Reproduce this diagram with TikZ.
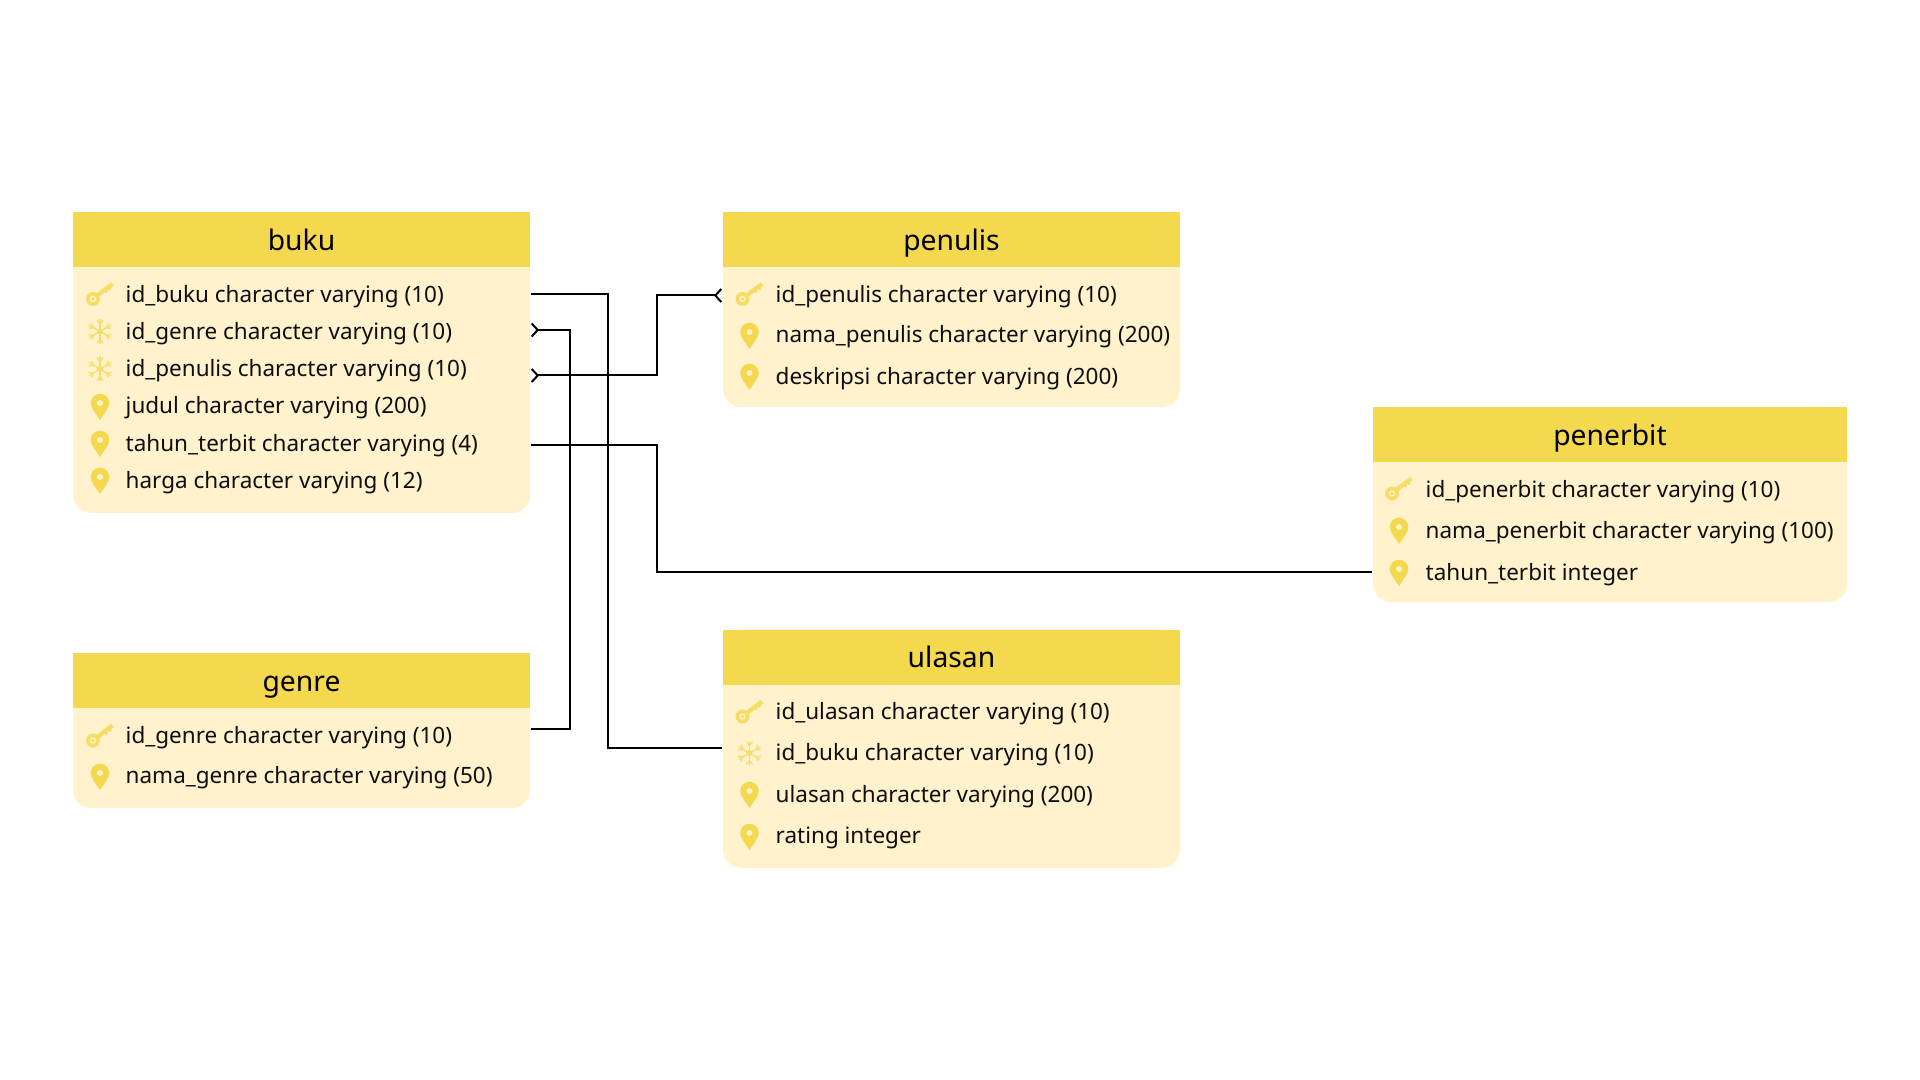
\documentclass[tikz,border=0pt]{standalone}
\usepackage{fontspec}
\setmainfont{Noto Sans}
\usetikzlibrary{arrows.meta}
\definecolor{headyellow}{HTML}{F4D94E}
\definecolor{bodyyellow}{HTML}{FFF2CC}
\definecolor{keyyellow}{HTML}{F6DD66}
\definecolor{inkblack}{HTML}{0E0E0E}
\tikzset{
  tablebody/.style={fill=bodyyellow,rounded corners=.18cm,minimum width=4.57cm,inner sep=0},
  tablehead/.style={fill=headyellow,minimum width=4.57cm,minimum height=.55cm,inner sep=0,text height=.215cm,text depth=0cm,text=black,font=\fontsize{8.05}{9}\selectfont},
  rowtext/.style={anchor=west,inner sep=0,text height=.2cm,text depth=.04cm,text=inkblack,font=\fontsize{6.4}{7}\selectfont},
  link/.style={draw=black,line width=.02cm},
  crowend/.style={-{Straight Barb[reversed,length=.06cm,width=.13cm]}},
  crowboth/.style={{Straight Barb[reversed,length=.06cm,width=.13cm]}-{Straight Barb[reversed,length=.06cm,width=.13cm]}},
  pics/pinicon/.style={code={
    \fill[headyellow] (0,-.13) .. controls (-.04,-.065) and (-.093,-.01) .. (-.093,.04) arc (180:0:.093) .. controls (.093,-.01) and (.04,-.065) .. (0,-.13) -- cycle;
    \fill[bodyyellow] (0,.04) circle (.03);
  }},
  pics/keyicon/.style={code={
    \fill[keyyellow] (-.07,-.045) circle (.07);
    \fill[bodyyellow] (-.07,-.045) circle (.032);
    \fill[keyyellow] (-.07,-.045) circle (.018);
    \draw[keyyellow,line width=.042cm] (-.03,-.012) -- (.125,.105);
    \draw[keyyellow,line width=.024cm] (.05,.05) -- (.072,.022);
    \draw[keyyellow,line width=.024cm] (.085,.075) -- (.107,.047);
  }},
  pics/flakearm/.style={code={
    \draw[keyyellow,line width=.012cm] (0,0) -- (.125,0);
    \draw[keyyellow,line width=.012cm] (.075,0) -- (.115,.03);
    \draw[keyyellow,line width=.012cm] (.075,0) -- (.115,-.03);
  }},
  pics/flakeicon/.style={code={
    \pic[rotate=30] at (0,0) {flakearm};
    \pic[rotate=90] at (0,0) {flakearm};
    \pic[rotate=150] at (0,0) {flakearm};
    \pic[rotate=210] at (0,0) {flakearm};
    \pic[rotate=270] at (0,0) {flakearm};
    \pic[rotate=330] at (0,0) {flakearm};
    \fill[keyyellow] (0,0) circle (.03);
  }},
}
\begin{document}
\begin{tikzpicture}
\useasboundingbox (0,0) rectangle (19.2,-10.8);
% buku
\node[tablebody,minimum height=3.01cm] (bukuBody) at (3.015,-3.625) {};
\node[tablehead] (bukuHead) at (3.015,-2.395) {buku};
\pic at (1,-2.945) {keyicon};
\node[rowtext] (bukuIdBuku) at (1.25,-2.945) {id\_buku character varying (10)};
\pic at (1,-3.315) {flakeicon};
\node[rowtext] (bukuIdGenre) at (1.25,-3.315) {id\_genre character varying (10)};
\pic at (1,-3.69) {flakeicon};
\node[rowtext] (bukuIdPenulis) at (1.25,-3.685) {id\_penulis character varying (10)};
\pic at (1,-4.07) {pinicon};
\node[rowtext] (bukuJudul) at (1.25,-4.055) {judul character varying (200)};
\pic at (1,-4.44) {pinicon};
\node[rowtext] (bukuTahun) at (1.25,-4.435) {tahun\_terbit character varying (4)};
\pic at (1,-4.81) {pinicon};
\node[rowtext] (bukuHarga) at (1.25,-4.8) {harga character varying (12)};
%
% penulis
\node[tablebody,minimum height=1.95cm] (penulisBody) at (9.515,-3.095) {};
\node[tablehead] (penulisHead) at (9.515,-2.395) {penulis};
\pic at (7.495,-2.945) {keyicon};
\node[rowtext] (penulisIdPenulis) at (7.75,-2.945) {id\_penulis character varying (10)};
\pic at (7.495,-3.36) {pinicon};
\node[rowtext] (penulisNama) at (7.75,-3.345) {nama\_penulis character varying (200)};
\pic at (7.495,-3.77) {pinicon};
\node[rowtext] (penulisDeskripsi) at (7.75,-3.76) {deskripsi character varying (200)};
%
% penerbit
\node[tablebody,minimum height=1.95cm,minimum width=4.74cm] (penerbitBody) at (16.1,-5.045) {};
\node[tablehead,minimum width=4.74cm] (penerbitHead) at (16.1,-4.345) {penerbit};
\pic at (13.99,-4.89) {keyicon};
\node[rowtext] (penerbitId) at (14.25,-4.89) {id\_penerbit character varying (10)};
\pic at (13.99,-5.31) {pinicon};
\node[rowtext] (penerbitNama) at (14.25,-5.305) {nama\_penerbit character varying (100)};
\pic at (13.99,-5.73) {pinicon};
\node[rowtext] (penerbitTahun) at (14.25,-5.725) {tahun\_terbit integer};
%
% genre
\node[tablebody,minimum height=1.55cm] (genreBody) at (3.015,-7.305) {};
\node[tablehead] (genreHead) at (3.015,-6.805) {genre};
\pic at (1,-7.36) {keyicon};
\node[rowtext] (genreIdGenre) at (1.25,-7.355) {id\_genre character varying (10)};
\pic at (1,-7.77) {pinicon};
\node[rowtext] (genreNama) at (1.25,-7.755) {nama\_genre character varying (50)};
%
% ulasan
\node[tablebody,minimum height=2.385cm] (ulasanBody) at (9.515,-7.485) {};
\node[tablehead] (ulasanHead) at (9.515,-6.57) {ulasan};
\pic at (7.495,-7.12) {keyicon};
\node[rowtext] (ulasanId) at (7.75,-7.115) {id\_ulasan character varying (10)};
\pic at (7.495,-7.53) {flakeicon};
\node[rowtext] (ulasanIdBuku) at (7.75,-7.525) {id\_buku character varying (10)};
\pic at (7.495,-7.95) {pinicon};
\node[rowtext] (ulasanTeks) at (7.75,-7.945) {ulasan character varying (200)};
\pic at (7.495,-8.37) {pinicon};
\node[rowtext] (ulasanRating) at (7.75,-8.355) {rating integer};
%
% ends of the connectors
\coordinate (bukuPk) at (bukuBody.east |- 0,-2.94);
\coordinate (bukuFkGenre) at (bukuBody.east |- 0,-3.3);
\coordinate (bukuFkPenulis) at (bukuBody.east |- 0,-3.755);
\coordinate (bukuFkPenerbit) at (bukuBody.east |- 0,-4.45);
\coordinate (penulisPk) at (penulisBody.west |- 0,-2.955);
\coordinate (penerbitEnd) at (penerbitBody.west |- 0,-5.715);
\coordinate (genrePk) at (genreBody.east |- 0,-7.29);
\coordinate (ulasanFk) at (ulasanBody.west |- 0,-7.475);
\coordinate (laneGenre) at (5.695,0);
\coordinate (laneUlasan) at (6.077,0);
\coordinate (laneKanan) at (6.567,0);
%
\draw[link] (bukuPk) -- (bukuPk -| laneUlasan) |- (ulasanFk);
\draw[link,crowend] (genrePk) -- (genrePk -| laneGenre) |- (bukuFkGenre);
\draw[link,crowboth] (bukuFkPenulis) -- (bukuFkPenulis -| laneKanan) |- (penulisPk);
\draw[link] (bukuFkPenerbit) -- (bukuFkPenerbit -| laneKanan) |- (penerbitEnd);
\end{tikzpicture}
\end{document}
